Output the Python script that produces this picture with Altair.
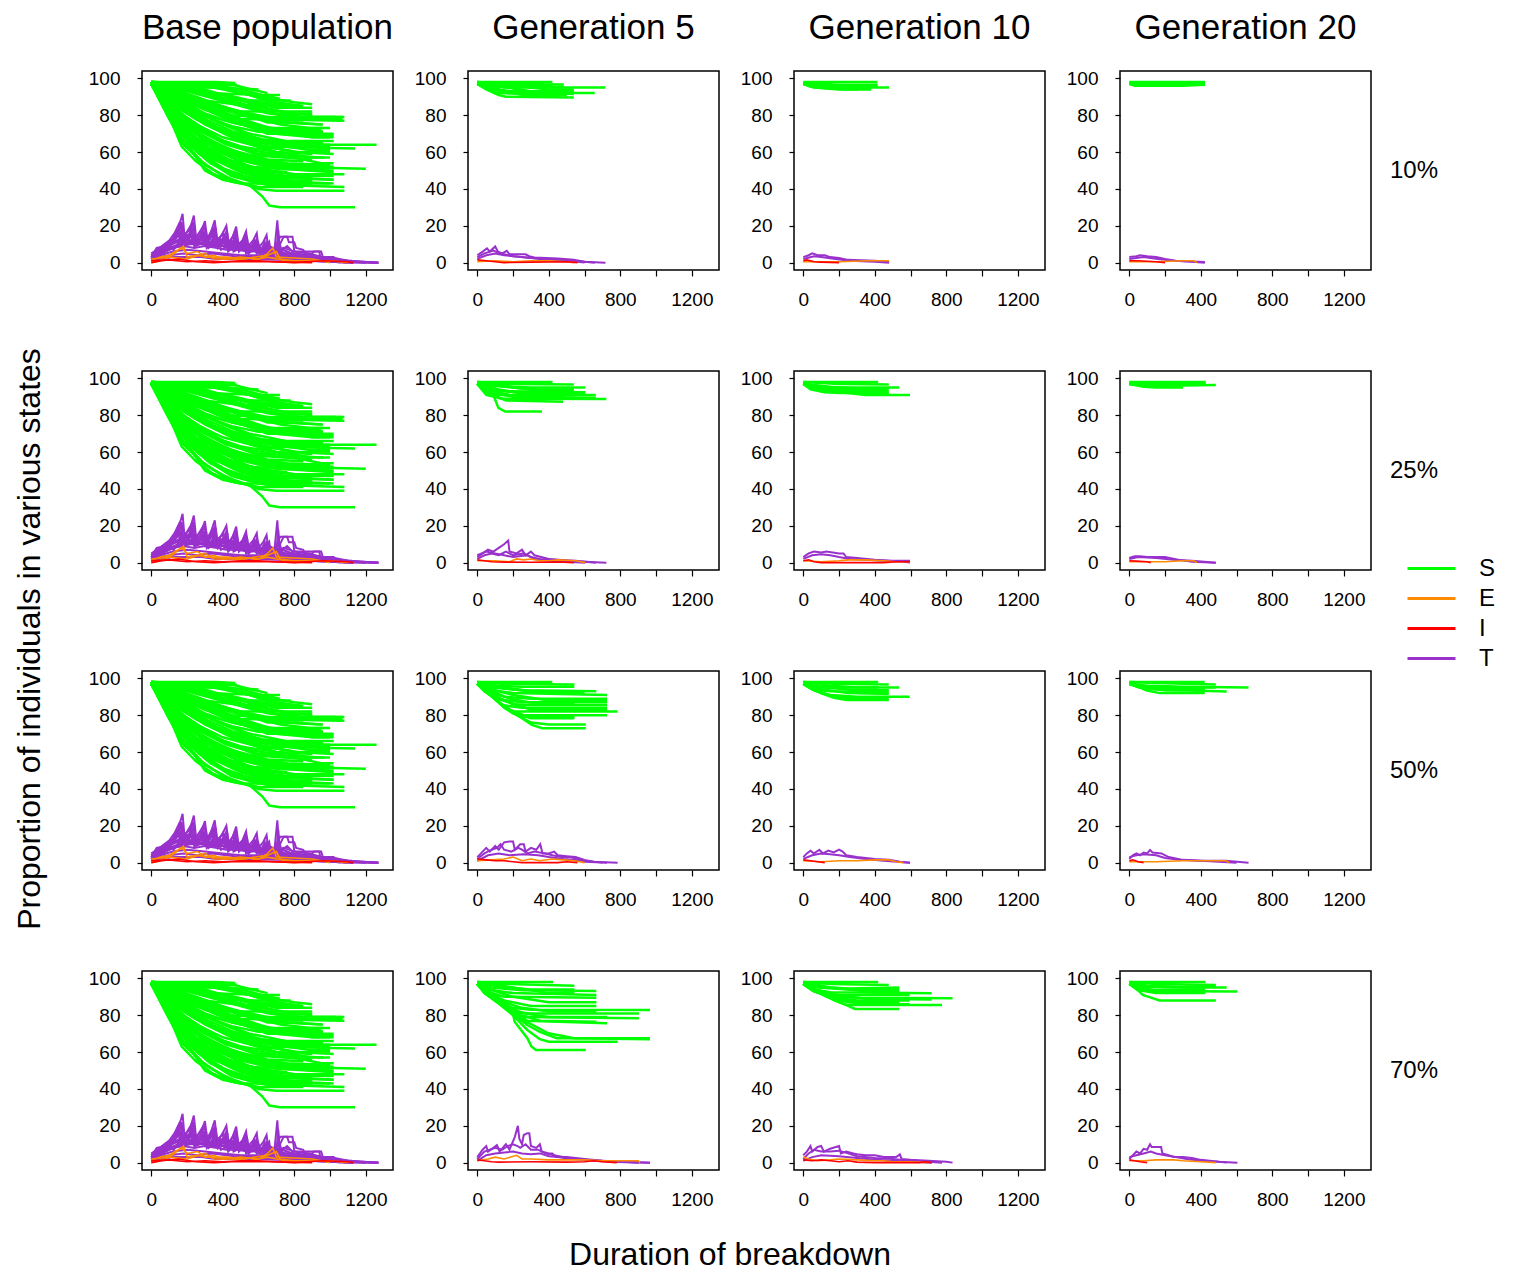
import altair as alt
import pandas as pd

FONT = "Liberation Sans"
COLS = ["Base population", "Generation 5", "Generation 10", "Generation 20"]
ROWS = ["10%", "25%", "50%", "70%"]
STATES = ["S", "E", "I", "T"]
COLORS = ["#00FF00", "#FF8C00", "#FF0000", "#9932CC"]
X_TICKS = [0, 200, 400, 600, 800, 1000, 1200]
Y_TICKS = [0, 20, 40, 60, 80, 100]

# ---------------- Base population (same in every row) ----------------
S_BASE = [
    [(0, 98), (363, 98), (470, 97.5)],
    [(0, 97.5), (100, 96.5), (480, 96.5)],
    [(0, 98), (200, 96), (300, 95), (600, 94)],
    [(0, 97), (150, 95), (300, 92), (600, 91), (720, 91)],
    [(0, 98), (200, 94), (400, 89), (560, 88), (780, 88)],
    [(0, 97), (120, 92), (300, 88), (500, 85.5), (840, 85)],
    [(0, 98), (150, 91), (350, 85), (500, 82), (900, 82)],
    [(0, 97), (100, 92), (250, 85), (450, 80), (600, 79), (1080, 79)],
    [(0, 98), (150, 89), (300, 83), (500, 78), (1080, 77)],
    [(0, 97), (120, 88), (300, 80), (500, 75), (700, 73), (960, 73)],
    [(0, 97), (100, 89), (250, 81), (450, 74), (600, 71), (960, 71)],
    [(0, 98), (130, 86), (280, 77), (450, 70), (650, 66), (1020, 66)],
    [(0, 97), (110, 87), (250, 78), (400, 71), (600, 66), (800, 64), (1260, 64)],
    [(0, 97), (100, 86), (250, 75), (400, 68), (600, 63), (1140, 62)],
    [(0, 98), (120, 84), (260, 72), (420, 64), (600, 59), (760, 58)],
    [(0, 97), (100, 84), (230, 72), (400, 63), (600, 56), (720, 55)],
    [(0, 97), (110, 82), (250, 68), (400, 60), (550, 55), (700, 52), (1200, 51)],
    [(0, 98), (100, 82), (220, 68), (380, 58), (550, 51), (760, 49)],
    [(0, 97), (90, 82), (200, 66), (350, 56), (500, 49), (650, 45), (760, 45)],
    [(0, 97), (100, 80), (210, 64), (330, 54), (480, 47), (650, 42), (760, 42)],
    [(0, 97), (90, 80), (180, 66), (300, 53), (450, 45), (600, 40), (700, 39), (1080, 39)],
    [(0, 97), (100, 78), (180, 64), (280, 55), (400, 47), (550, 42), (620, 36), (660, 31), (720, 30), (1140, 30)],
    [(0, 98), (120, 80), (170, 65), (230, 60), (300, 50), (400, 45), (500, 43), (900, 43)],
    [(0, 97), (110, 77), (170, 63), (250, 55), (350, 48), (450, 44), (600, 41), (850, 41)],
    [(0, 98), (200, 90), (350, 82), (500, 75), (700, 70), (900, 69)],
    [(0, 97), (250, 90), (450, 83), (650, 76), (850, 76)],
    [(0, 98), (300, 94), (500, 88), (700, 84), (800, 84)],
    [(0, 97), (200, 85), (400, 75), (600, 67), (800, 63), (1000, 63)],
    [(0, 97), (180, 80), (400, 66), (600, 58), (900, 56)],
    [(0, 98), (150, 78), (350, 62), (550, 52), (1020, 49)],
    [(0, 97), (160, 76), (300, 61), (500, 50), (700, 46), (1020, 45)],
    [(0, 97), (250, 88), (500, 78), (700, 72), (950, 72)],
    [(0, 98), (400, 95), (650, 89), (700, 88)],
    [(0, 97), (300, 86), (600, 73), (900, 68), (1000, 68)],
    [(0, 97), (200, 82), (450, 69), (700, 60), (900, 57), (1000, 57)],
    [(0, 98), (350, 91), (550, 85), (800, 81), (900, 81)],
    [(0, 97), (130, 85), (350, 74), (600, 65), (900, 61), (1000, 61)],
    [(0, 97), (80, 88), (200, 74), (400, 62), (700, 53), (1000, 53)],
    [(0, 97), (250, 80), (500, 66), (750, 58), (950, 54), (1020, 54)],
    [(0, 98), (180, 88), (400, 79), (650, 70), (1020, 70)],
    [(0, 98), (250, 97), (400, 95), (550, 91), (700, 87), (850, 85)],
    [(0, 97.5), (150, 96), (300, 93), (450, 90), (600, 86), (780, 84), (900, 84)],
    [(0, 98), (100, 95), (200, 91), (350, 86), (500, 82), (700, 78), (1070, 78)],
    [(0, 97), (80, 93), (160, 88), (300, 81), (450, 76), (600, 73), (800, 71), (960, 71)],
    [(0, 97), (60, 92), (140, 85), (250, 78), (400, 71), (550, 67), (750, 64), (1000, 64)],
    [(0, 98), (70, 90), (140, 82), (230, 74), (350, 68), (500, 63), (700, 60), (900, 59)],
    [(0, 97), (50, 91), (120, 83), (200, 75), (300, 68), (450, 61), (650, 56), (850, 55)],
    [(0, 97), (60, 89), (130, 79), (220, 70), (330, 62), (480, 56), (700, 51), (1000, 50)],
    [(0, 97), (40, 92), (90, 85), (150, 77), (250, 66), (380, 57), (550, 50), (760, 47), (1020, 47)],
    [(0, 97), (70, 87), (140, 76), (220, 67), (330, 58), (480, 51), (700, 47), (900, 46)],
    [(0, 98), (300, 96), (450, 93), (600, 90), (800, 87), (900, 86)],
    [(0, 97), (200, 93), (350, 89), (500, 85), (650, 81), (850, 79), (1070, 79)],
    [(0, 97.5), (120, 93), (250, 88), (400, 83), (550, 79), (750, 76), (950, 75)],
    [(0, 97), (180, 90), (320, 84), (480, 78), (650, 73), (850, 70), (1020, 69)],
    [(0, 97), (100, 90), (220, 83), (380, 76), (550, 70), (750, 66), (950, 65)],
    [(0, 98), (150, 86), (280, 77), (420, 70), (600, 64), (800, 60), (1020, 59)],
    [(0, 97), (90, 86), (190, 75), (320, 66), (470, 59), (650, 54), (900, 52)],
    [(0, 97), (130, 81), (250, 70), (380, 62), (550, 56), (800, 53), (1020, 52)],
    [(0, 97), (80, 84), (170, 72), (280, 62), (420, 54), (600, 48), (800, 46), (1020, 45)],
    [(0, 98), (110, 82), (200, 71), (320, 60), (460, 52), (620, 46), (760, 44), (1020, 43)],
    [(0, 97), (120, 78), (200, 68), (300, 58), (420, 50), (580, 44), (760, 42), (1080, 41)],
    [(0, 97), (140, 74), (220, 64), (320, 55), (450, 47), (600, 43), (850, 42)],
    [(0, 98), (400, 97), (480, 96), (560, 94), (650, 92)],
    [(0, 98), (350, 96.5), (500, 94), (620, 91), (720, 89)],
    [(0, 97), (250, 94), (420, 91), (600, 87), (780, 85), (840, 85)],
    [(0, 98), (150, 96), (280, 92), (420, 88), (560, 84), (700, 81), (830, 80)],
    [(0, 97), (100, 93), (220, 87), (360, 81), (500, 76), (650, 72), (800, 70), (900, 70)],
    [(0, 97.5), (90, 91), (190, 84), (320, 77), (460, 71), (620, 67), (800, 65), (960, 65)],
    [(0, 97), (70, 90), (160, 81), (270, 73), (400, 66), (560, 61), (750, 58), (960, 57)],
    [(0, 98), (60, 90), (130, 82), (220, 73), (330, 65), (470, 58), (650, 53), (850, 51), (960, 51)],
    [(0, 97), (50, 90), (110, 81), (190, 71), (290, 62), (420, 55), (600, 50), (800, 48), (960, 48)],
    [(0, 97), (45, 91), (100, 83), (170, 73), (260, 63), (380, 55), (540, 49), (700, 45), (900, 44)],
    [(0, 97), (40, 91), (90, 83), (140, 75), (210, 65), (300, 57), (420, 50), (580, 45), (760, 43), (1000, 43)],
    [(0, 97), (35, 91), (80, 84), (130, 76), (190, 67), (270, 59), (380, 52), (520, 47), (700, 44), (900, 44)],
    [(0, 98), (320, 97), (420, 95), (520, 92), (640, 88), (760, 85), (800, 85)],
    [(0, 97), (220, 95), (360, 92), (500, 88), (640, 84), (780, 81), (900, 80)],
    [(0, 97), (160, 93), (300, 88), (450, 83), (600, 79), (760, 76), (960, 75)],
    [(0, 98), (130, 94), (260, 89), (400, 84), (560, 79), (720, 75), (900, 73), (1000, 73)],
    [(0, 97), (110, 92), (240, 86), (380, 80), (540, 74), (700, 70), (900, 68), (1020, 68)],
    [(0, 97), (80, 90), (180, 82), (300, 75), (450, 68), (620, 63), (820, 60), (1000, 60)],
    [(0, 97), (60, 88), (150, 79), (260, 70), (390, 63), (560, 57), (760, 54), (1000, 53)],
    [(0, 98), (200, 94), (330, 90), (470, 86), (620, 82), (780, 79), (1030, 79)],
    [(0, 97), (140, 91), (260, 85), (410, 79), (570, 74), (740, 70), (960, 69)],
    [(0, 97), (75, 88), (160, 79), (260, 70), (380, 62), (520, 56), (700, 52), (900, 50), (1020, 50)],
    [(0, 97), (55, 89), (120, 80), (200, 71), (300, 63), (430, 56), (600, 51), (800, 48), (1080, 48)],
]
T_BASE = [
    [(0, 3), (30, 8), (80, 9), (120, 13), (150, 18), (175, 26.5), (185, 15), (215, 18), (238, 25.5),
     (250, 14), (280, 17), (300, 22.5), (312, 13), (335, 17), (355, 23), (368, 12), (395, 15), (420, 20),
     (432, 11), (455, 14), (475, 19.5), (487, 10), (510, 12), (530, 17), (542, 9), (570, 12), (590, 16),
     (600, 8), (625, 11), (645, 15), (655, 7), (690, 8), (705, 23), (715, 9), (740, 14), (790, 14),
     (800, 6), (880, 6), (940, 6), (945, 3), (1000, 3), (1100, 1), (1270, 0)],
    [(0, 2), (40, 6), (90, 8), (130, 12), (160, 16), (172, 9), (205, 13), (230, 18), (240, 9), (270, 12),
     (300, 16), (310, 8), (345, 12), (360, 17), (372, 8), (405, 11), (420, 14), (430, 6), (470, 10),
     (480, 13), (490, 6), (520, 9), (535, 12), (545, 5), (580, 8), (600, 10), (610, 4), (650, 6),
     (700, 5), (760, 3), (850, 2), (950, 1), (1050, 0.5), (1130, 0)],
    [(0, 4), (60, 9), (100, 10), (140, 15), (165, 20), (178, 10), (220, 14), (240, 20), (252, 10),
     (290, 14), (305, 18), (318, 9), (350, 14), (360, 19), (372, 9), (410, 12), (425, 16), (436, 7),
     (465, 10), (478, 15), (490, 7), (525, 10), (535, 14), (546, 6), (585, 8), (595, 12), (605, 5),
     (650, 9), (660, 11), (670, 4), (720, 5), (800, 3), (900, 2), (1000, 1), (1100, 0)],
    [(0, 1), (50, 4), (120, 6), (200, 7), (300, 6), (400, 5), (500, 4), (600, 4), (700, 3), (800, 2),
     (900, 1), (1000, 0.5), (1200, 0)],
    [(0, 2), (80, 7), (150, 10), (250, 11), (350, 10), (450, 8), (550, 7), (650, 6), (750, 4), (850, 3),
     (1000, 1), (1100, 0)],
    [(700, 9), (720, 14), (760, 14), (770, 11), (800, 11), (810, 8), (850, 7), (860, 5), (900, 5),
     (910, 6), (950, 6), (960, 3), (1020, 3), (1030, 1), (1120, 1), (1130, 0)],
    [(0, 3), (20, 5), (60, 7), (110, 9), (125, 7), (160, 12), (200, 15), (215, 11), (260, 13), (285, 12),
     (330, 14), (380, 13), (440, 11), (500, 10), (560, 9), (620, 8), (660, 9), (700, 7), (750, 5),
     (800, 4), (950, 2), (1270, 0)],
    [(0, 5), (50, 8), (100, 11), (140, 14), (170, 22), (180, 12), (210, 15), (235, 22), (245, 12), (275, 15),
     (300, 20), (310, 11), (340, 15), (355, 20), (365, 10), (400, 13), (420, 17), (430, 9), (460, 12),
     (475, 17), (485, 8), (515, 11), (530, 15), (540, 7), (575, 10), (590, 13), (600, 6), (640, 9),
     (650, 12), (660, 5), (700, 6), (710, 18), (718, 6), (760, 9), (800, 5), (900, 4), (1000, 2), (1200, 0)],
    [(0, 2), (30, 5), (70, 8), (110, 10), (160, 13), (190, 11), (230, 15), (260, 12), (300, 14), (330, 11),
     (370, 13), (410, 10), (450, 11), (490, 9), (530, 10), (570, 8), (620, 8), (680, 6), (740, 7),
     (800, 4), (870, 3), (950, 2), (1100, 0.5), (1270, 0)],
    [(0, 1), (40, 3), (100, 4), (180, 5), (260, 4), (340, 5), (420, 4), (500, 3), (580, 3), (660, 2),
     (760, 2), (860, 1), (1000, 0.5), (1130, 0)],
    [(0, 3), (60, 6), (120, 8), (180, 9), (240, 8), (300, 9), (360, 8), (420, 7), (480, 7), (540, 6),
     (600, 6), (680, 5), (760, 4), (860, 2), (960, 1), (1060, 0)],
    [(0, 4), (40, 7), (90, 9), (140, 11), (190, 12), (240, 12), (290, 12), (340, 11), (390, 11), (440, 10),
     (490, 9), (540, 9), (590, 8), (640, 8), (700, 8), (760, 6), (820, 4), (900, 3), (1000, 1.5), (1130, 0)],
    [(0, 2), (50, 5), (100, 7), (160, 9), (220, 10), (280, 10), (340, 9), (400, 9), (460, 8), (520, 7),
     (580, 7), (640, 6), (700, 5), (780, 4), (880, 2), (1000, 1), (1270, 0)],
    [(0, 3), (70, 8), (130, 13), (150, 16), (165, 11), (200, 14), (225, 17), (235, 11), (270, 13), (290, 16),
     (300, 10), (330, 13), (345, 16), (355, 9), (390, 11), (410, 14), (420, 8), (450, 10), (465, 13),
     (475, 7), (500, 9), (520, 12), (530, 6), (560, 8), (580, 11), (590, 5), (630, 7), (640, 10), (650, 4),
     (700, 4), (800, 2), (950, 1), (1100, 0)],
    [(0, 2), (40, 4), (80, 6), (120, 8), (160, 10), (200, 11), (240, 10), (280, 11), (320, 10), (360, 10),
     (400, 9), (440, 9), (480, 8), (520, 8), (560, 7), (600, 7), (650, 6), (700, 6), (750, 5), (800, 3),
     (850, 3), (950, 2), (1100, 0.5)],
    [(0, 3), (50, 7), (100, 9), (150, 12), (180, 14), (190, 9), (220, 12), (240, 14), (250, 9), (290, 11),
     (310, 13), (320, 8), (360, 11), (380, 12), (390, 7), (430, 9), (450, 11), (460, 6), (500, 8), (520, 10),
     (530, 5), (570, 7), (600, 9), (610, 4), (660, 6), (720, 10), (730, 5), (780, 5), (840, 4), (900, 3),
     (1000, 2), (1130, 0)],
    [(0, 1), (60, 2), (120, 3), (200, 3), (280, 3), (360, 2), (440, 2), (520, 2), (600, 2), (700, 1.5),
     (800, 1), (900, 1), (1000, 0.5), (1270, 0)],
    [(0, 4), (30, 6), (60, 9), (100, 12), (130, 16), (155, 21), (165, 12), (195, 16), (220, 20), (230, 11),
     (260, 15), (285, 19), (295, 11), (325, 14), (340, 18), (350, 10), (380, 13), (400, 16), (410, 9),
     (445, 12), (460, 15), (470, 8), (505, 11), (520, 14), (532, 7), (560, 9), (575, 12), (585, 6),
     (620, 8), (635, 11), (645, 5), (680, 6), (740, 8), (800, 6), (880, 5), (960, 3), (1080, 1), (1130, 0)],
]
E_BASE = [
    [(0, 1), (50, 3), (100, 4), (150, 7), (170, 8), (200, 5), (260, 6), (300, 3), (350, 4), (400, 2),
     (500, 3), (600, 2), (700, 6), (720, 2), (800, 1), (1000, 1), (1100, 0)],
    [(0, 0), (80, 2), (130, 5), (180, 9), (200, 3), (250, 4), (320, 3), (420, 3), (520, 2), (640, 4),
     (680, 8), (700, 3), (900, 2), (1000, 0)],
    [(0, 2), (100, 3), (200, 2), (300, 5), (350, 2), (450, 2), (550, 1), (650, 3), (750, 1), (850, 0.5)],
]
I_BASE = [
    [(0, 1), (100, 1.5), (200, 0.5), (300, 1), (400, 0.5), (500, 1), (600, 1), (700, 0.5), (800, 0),
     (960, 1), (1100, 0.5), (1130, 0)],
    [(0, 0), (60, 1), (150, 2), (250, 0.5), (350, 0), (450, 0.5), (650, 0.5), (750, 0.3), (900, 0)],
]

# ---------------- 10% ----------------
S_R10_G5 = [
    [(0, 98), (420, 98)],
    [(0, 98), (100, 97), (484, 96.7)],
    [(0, 97), (150, 95), (300, 95), (717, 95)],
    [(0, 97), (60, 94), (200, 93), (540, 93)],
    [(0, 97), (40, 95), (100, 92), (300, 92), (657, 92)],
    [(0, 97), (50, 94), (120, 91), (160, 90), (540, 89.6)],
    [(0, 98), (80, 95), (250, 91), (420, 90)],
    [(0, 97.5), (200, 96), (400, 94), (540, 94)],
    [(0, 98), (100, 96), (300, 93), (540, 92.5)],
    [(0, 97), (150, 92), (350, 91), (500, 91)],
    [(0, 97.5), (60, 96), (250, 95.5), (484, 95.5)],
    [(0, 97), (80, 93.5), (250, 92.5), (540, 91.5)],
    [(0, 98), (120, 97), (350, 96), (420, 96)],
]
T_R10_G5 = [
    [(0, 4), (30, 6), (54, 7.7), (70, 6), (100, 8.8), (115, 6), (140, 5), (165, 6.4), (180, 4.5),
     (270, 4.5), (290, 3.5), (320, 2.8), (450, 2.2), (540, 1.5), (600, 0.5), (717, 0)],
    [(0, 2), (50, 4), (100, 5), (150, 4), (250, 3), (350, 2), (500, 1), (600, 0)],
    [(0, 3), (40, 5), (90, 6.5), (130, 5), (200, 3.5), (300, 2.5), (400, 2), (540, 1), (657, 0)],
]
E_R10_G5 = [[(0, 0.5), (100, 1), (200, 0.5), (300, 1), (400, 1), (500, 0.5), (540, 0)]]
I_R10_G5 = [[(0, 1.5), (50, 1), (100, 0.5), (150, 0), (300, 0.3), (500, 0.5), (560, 0)]]

S_R10_G10 = [
    [(0, 98), (415, 98)],
    [(0, 97), (100, 96), (415, 96)],
    [(0, 97), (40, 95.5), (150, 94.5), (300, 94), (380, 94)],
    [(0, 97), (80, 95), (480, 95)],
    [(0, 97.5), (200, 96.5), (415, 96.5)],
    [(0, 97), (60, 95), (200, 94), (303, 94)],
    [(0, 97.5), (50, 96), (300, 95.5), (415, 95.5)],
    [(0, 97), (100, 95), (250, 94.5), (380, 94.5)],
]
T_R10_G10 = [
    [(0, 3), (30, 4), (50, 5), (80, 4), (120, 4), (150, 3), (200, 2.5), (250, 1.5), (400, 1), (480, 0.5)],
    [(0, 2), (60, 3.5), (100, 3), (180, 2), (260, 1), (400, 0.5), (480, 0)],
]
E_R10_G10 = [[(0, 0.5), (100, 0.5), (200, 0.5), (360, 1), (480, 1)]]
I_R10_G10 = [[(0, 1), (20, 1.5), (60, 0.5), (100, 0.3), (200, 0)]]

S_R10_G20 = [
    [(0, 98), (423, 98)],
    [(0, 97.5), (423, 97.5)],
    [(0, 97), (60, 96.5), (423, 96.5)],
    [(0, 97), (30, 96), (300, 96), (423, 96.5)],
    [(0, 97.5), (200, 97), (423, 97)],
]
T_R10_G20 = [
    [(0, 3), (40, 3.5), (60, 4), (100, 3.5), (150, 3), (200, 2), (260, 1), (350, 0.5), (423, 0)],
    [(0, 2), (80, 3), (160, 2), (250, 1), (423, 0.3)],
]
E_R10_G20 = [[(0, 0.5), (150, 0.5), (300, 1), (360, 1), (380, 0)]]
I_R10_G20 = [[(0, 1), (50, 1), (150, 0.5), (200, 0)]]

# ---------------- 25% ----------------
S_R25_G5 = [
    [(0, 98), (421, 98)],
    [(0, 98), (150, 97), (540, 96.7)],
    [(0, 97), (100, 96), (300, 95), (604, 95)],
    [(0, 97), (50, 94), (150, 93), (604, 92.4)],
    [(0, 97), (40, 93), (100, 91), (663, 91)],
    [(0, 97.5), (80, 92), (200, 90), (663, 89.5)],
    [(0, 97), (60, 92), (161, 88), (480, 87.3)],
    [(0, 97), (50, 91), (140, 89), (722, 88.8)],
    [(0, 97), (40, 93), (90, 91), (118, 84), (156, 82), (362, 82)],
    [(0, 98), (200, 95), (400, 93), (540, 93)],
    [(0, 97.5), (120, 94), (300, 91), (480, 90)],
    [(0, 97.5), (80, 94), (250, 92), (604, 92)],
    [(0, 97), (60, 93.5), (180, 91), (480, 89)],
    [(0, 98), (100, 96), (300, 94), (540, 94)],
]
T_R25_G5 = [
    [(0, 3), (30, 5), (60, 7), (90, 6), (120, 8), (150, 10), (173, 12), (180, 6), (220, 5), (250, 7),
     (270, 4), (300, 6), (320, 4), (400, 2), (500, 1), (600, 0.5), (722, 0)],
    [(0, 2), (40, 4), (80, 5), (120, 4), (160, 6), (200, 4), (260, 5), (300, 3), (350, 2), (450, 1.5),
     (550, 1), (663, 0)],
    [(0, 4), (50, 6), (100, 5), (150, 4), (200, 3), (280, 4), (320, 2), (400, 1), (500, 0.5), (604, 0)],
]
E_R25_G5 = [[(0, 1), (100, 1), (180, 0.5), (220, 2), (260, 1.5), (300, 2), (350, 1), (400, 1), (450, 1.5),
             (550, 1), (604, 0)]]
I_R25_G5 = [[(0, 1.5), (40, 1), (80, 0.5), (150, 0.3), (300, 0.2), (480, 0.3), (540, 0)]]

S_R25_G10 = [
    [(0, 98), (419, 98)],
    [(0, 98), (200, 97), (478, 96.7)],
    [(0, 97), (80, 95), (300, 95), (537, 95)],
    [(0, 97), (50, 94.5), (150, 93.5), (478, 93.5)],
    [(0, 97), (40, 94), (120, 92.5), (207, 92), (478, 92)],
    [(0, 97.5), (100, 93), (250, 92), (348, 91), (597, 91)],
    [(0, 97), (150, 95.5), (300, 94.5), (420, 94.5)],
    [(0, 97.5), (60, 95.5), (250, 94), (478, 94.5)],
    [(0, 97), (80, 94), (200, 93), (478, 92.5)],
]
T_R25_G10 = [
    [(0, 3), (30, 5), (60, 6), (100, 5.5), (130, 6), (200, 5), (225, 5), (240, 3), (300, 2.5), (400, 1.5),
     (500, 1), (597, 1)],
    [(0, 2), (50, 4), (100, 4.5), (150, 4), (200, 3), (260, 2), (350, 1.5), (450, 1), (560, 0.5), (597, 0)],
]
E_R25_G10 = [[(0, 1), (100, 0.5), (200, 1), (250, 1.5), (350, 1.5), (450, 1), (520, 0.5), (597, 0.5)]]
I_R25_G10 = [[(0, 1), (30, 1.5), (60, 0.5), (100, 0), (450, 0), (520, 0.5), (597, 0.5)]]

S_R25_G20 = [
    [(0, 98), (426, 98)],
    [(0, 97.5), (426, 97.5)],
    [(0, 97), (60, 96.5), (426, 96.5)],
    [(0, 97), (80, 95.5), (150, 95), (244, 95), (300, 95)],
    [(0, 97), (100, 96), (200, 96), (484, 96.4)],
    [(0, 97.5), (150, 97), (426, 97)],
]
T_R25_G20 = [
    [(0, 2.5), (30, 3.5), (60, 3.5), (100, 3), (200, 3), (280, 1.5), (350, 0.5), (484, 0)],
    [(0, 2), (50, 3), (150, 2.5), (250, 1.5), (350, 1), (420, 0.5), (484, 0)],
]
E_R25_G20 = [[(0, 0.5), (200, 0.5), (300, 1), (360, 1), (380, 0)]]
I_R25_G20 = [[(0, 1), (40, 0.8), (100, 0.5), (120, 0)]]

# ---------------- 50% ----------------
S_R50_G5 = [
    [(0, 98), (419, 98)],
    [(0, 98), (150, 97), (543, 96.7)],
    [(0, 97), (100, 96), (250, 95.5), (543, 95.5)],
    [(0, 97), (80, 95), (250, 93.5), (666, 93)],
    [(0, 97), (60, 94), (200, 92), (726, 91)],
    [(0, 97), (50, 93), (150, 90), (300, 89), (726, 89)],
    [(0, 97), (45, 93), (100, 89), (250, 87), (726, 87)],
    [(0, 97), (40, 93), (90, 90), (200, 86), (300, 85.5), (726, 85.5)],
    [(0, 97), (40, 93), (90, 90), (140, 85.5), (250, 84), (726, 84)],
    [(0, 97), (45, 93), (120, 87), (190, 82), (785, 82)],
    [(0, 97), (40, 93.5), (110, 88), (180, 83), (260, 80), (726, 80)],
    [(0, 97), (43, 93.7), (138, 85.5), (245, 79.5), (543, 79.2)],
    [(0, 97), (50, 93), (130, 86), (200, 81), (300, 78.3), (543, 78.3)],
    [(0, 97), (40, 94), (90, 90), (150, 84), (220, 80), (300, 76), (400, 75), (607, 75)],
    [(0, 97), (43, 93.7), (90, 90), (138, 85.5), (198, 82), (257, 78), (305, 74.7), (364, 72.9), (607, 72.9)],
    [(0, 98), (200, 94), (400, 92), (600, 92)],
    [(0, 97.5), (60, 94.5), (200, 91), (400, 88), (726, 88)],
    [(0, 97), (50, 93.5), (150, 88), (300, 83), (726, 83)],
    [(0, 97), (60, 94), (180, 89), (350, 86), (543, 86)],
    [(0, 98), (120, 95.5), (300, 93), (543, 93)],
]
T_R50_G5 = [
    [(0, 3), (30, 6), (50, 8), (70, 6), (100, 9), (120, 7), (150, 11), (180, 11.5), (200, 11.5), (210, 7),
     (240, 10), (260, 10), (270, 6), (300, 8), (330, 7), (352, 10), (365, 5), (400, 5), (430, 6), (450, 4),
     (500, 3.5), (550, 3), (600, 1.5), (650, 0.5), (785, 0)],
    [(0, 2), (40, 5), (80, 7), (110, 8), (130, 10), (150, 7), (190, 6), (230, 8), (250, 7), (280, 5),
     (320, 6), (380, 5), (420, 4), (470, 3), (520, 3), (560, 2), (600, 1), (700, 0)],
    [(0, 1), (60, 4), (120, 5), (180, 4), (260, 4.5), (340, 4), (400, 3), (480, 2), (540, 1.5), (600, 0.5),
     (726, 0)],
]
E_R50_G5 = [[(0, 1), (80, 1.5), (150, 2), (200, 3), (250, 1), (300, 2), (350, 1), (420, 2), (480, 1.5),
             (543, 1), (600, 0)]]
I_R50_G5 = [[(0, 2), (50, 1.5), (100, 1), (150, 1), (200, 0.5), (250, 0), (450, 0), (500, 0.5), (560, 0)]]

S_R50_G10 = [
    [(0, 98), (419, 98)],
    [(0, 98), (200, 97), (478, 96.7)],
    [(0, 97), (80, 95.5), (250, 95), (537, 95)],
    [(0, 97), (60, 94), (150, 93), (478, 92.5)],
    [(0, 97), (42, 94.6), (101, 91.9), (172, 89.5), (242, 88.2), (478, 88.2)],
    [(0, 97), (60, 93.5), (150, 91), (300, 90), (595, 90)],
    [(0, 97), (50, 94), (120, 91.5), (200, 89.5), (400, 89), (478, 89)],
    [(0, 98), (150, 96), (300, 95), (420, 95)],
    [(0, 97.5), (80, 94.5), (250, 92), (478, 91.5)],
    [(0, 97), (120, 95), (300, 93.5), (478, 93.5)],
]
T_R50_G10 = [
    [(0, 3), (20, 5), (40, 6.5), (60, 5), (90, 7), (110, 5), (140, 6.5), (170, 5.5), (200, 7), (220, 6),
     (240, 4), (300, 3), (400, 2), (480, 1.5), (540, 0.5), (597, 0)],
    [(0, 2), (50, 4), (100, 5), (150, 4.5), (200, 4), (260, 3), (350, 2), (450, 1), (597, 0)],
]
E_R50_G10 = [[(0, 1), (100, 0.5), (200, 1), (300, 1), (400, 1.5), (480, 1.5), (520, 0.5), (560, 0)]]
I_R50_G10 = [[(0, 1.5), (40, 1), (80, 0.5), (120, 0)]]

S_R50_G20 = [
    [(0, 98), (422, 98)],
    [(0, 98), (150, 97.5), (484, 96.7)],
    [(0, 97), (100, 96), (300, 95.5), (667, 95)],
    [(0, 97), (56, 95), (150, 94), (300, 93.5), (545, 92.9)],
    [(0, 97), (28, 96.5), (94, 93.5), (169, 92), (422, 92)],
    [(0, 97), (60, 95), (200, 94.5), (422, 94.5)],
    [(0, 97.5), (80, 96), (300, 95), (484, 95)],
    [(0, 97), (50, 95.5), (200, 93.5), (422, 93.5)],
]
T_R50_G20 = [
    [(0, 2), (20, 4), (40, 5), (60, 4), (80, 5.5), (100, 5), (116, 6.9), (130, 5.5), (180, 5), (220, 3),
     (300, 1.5), (400, 1), (540, 1), (667, 0)],
    [(0, 3), (40, 4), (80, 4.5), (150, 4), (200, 2.5), (280, 1.5), (400, 1), (500, 0.5), (600, 0)],
]
E_R50_G20 = [[(0, 0.5), (150, 0.5), (300, 1), (400, 1), (480, 1), (540, 1), (560, 0)]]
I_R50_G20 = [[(0, 1), (20, 1.5), (50, 0.5), (80, 0)]]

# ---------------- 70% ----------------
S_R70_G5 = [
    [(0, 98), (424, 98)],
    [(0, 98), (150, 97), (543, 96)],
    [(0, 97), (80, 95), (250, 93.5), (666, 93.1)],
    [(0, 97), (60, 94), (200, 92), (666, 91)],
    [(0, 97), (50, 93), (150, 90), (666, 89.5)],
    [(0, 97), (43, 92), (114, 87.3), (200, 84), (300, 83), (966, 82.8)],
    [(0, 97), (50, 92), (120, 87), (185, 82), (300, 81), (904, 81)],
    [(0, 97), (43, 91.9), (114, 87.3), (185, 82), (260, 79), (904, 78.3)],
    [(0, 97), (40, 93), (100, 88.5), (180, 83), (280, 77), (726, 75.6)],
    [(0, 97), (45, 92), (120, 86.5), (232, 78.3), (280, 74.7), (350, 71), (445, 67.5), (966, 67.5)],
    [(0, 97), (50, 91.5), (130, 86), (209, 80), (303, 75), (398, 70.2), (492, 68.4), (540, 67.5), (966, 67)],
    [(0, 97), (40, 92), (110, 87), (197, 82), (209, 76.5), (280, 67.5), (303, 63), (328, 61.1), (607, 61.1)],
    [(0, 97), (50, 92.5), (130, 85.5), (200, 80), (280, 72), (350, 67), (400, 65.6), (785, 65.6)],
    [(0, 97), (43, 92), (100, 88), (160, 84), (250, 80), (350, 77), (666, 76.5)],
    [(0, 98), (200, 95), (400, 92), (543, 92)],
    [(0, 97), (70, 92), (150, 87), (250, 84), (400, 82), (666, 82)],
    [(0, 97.5), (70, 94), (200, 90), (400, 87), (666, 87)],
    [(0, 97), (60, 93), (150, 88), (300, 85), (666, 85)],
    [(0, 97), (50, 92), (140, 86), (260, 81), (400, 79), (726, 79)],
    [(0, 98), (120, 95.5), (300, 94), (543, 94)],
]
T_R70_G5 = [
    [(0, 3), (30, 7), (50, 9), (60, 6), (90, 8), (110, 9.5), (125, 6), (160, 10), (180, 7), (210, 14),
     (227, 20), (235, 13), (250, 10), (260, 15), (280, 16), (291, 16), (300, 9), (330, 8), (350, 10),
     (360, 6), (400, 5), (420, 5), (440, 3), (500, 3), (600, 2), (700, 1), (800, 0.5), (966, 0)],
    [(0, 2), (40, 6), (70, 7), (100, 8), (140, 7), (170, 9), (200, 10), (225, 9), (240, 8), (270, 10),
     (300, 7), (340, 7), (380, 5), (430, 4), (480, 3), (550, 2), (650, 1), (750, 0.5), (904, 0)],
    [(0, 1), (50, 4), (100, 5), (150, 5.5), (200, 6), (250, 5), (300, 4.5), (350, 5), (400, 3.5), (450, 3),
     (520, 2), (600, 1.5), (700, 1), (800, 0.5), (966, 0)],
]
E_R70_G5 = [[(0, 1), (60, 2), (100, 3), (150, 2), (220, 4), (250, 2), (300, 2), (400, 1.5), (500, 1.5),
             (600, 1.5), (700, 1), (900, 1), (910, 0)]]
I_R70_G5 = [[(0, 1.5), (40, 1), (80, 0.5), (120, 0.3), (300, 0.5), (500, 0.3), (600, 0.5), (650, 1),
             (700, 0.5), (780, 0)]]

S_R70_G10 = [
    [(0, 98), (419, 98)],
    [(0, 98), (150, 97), (478, 96.4)],
    [(0, 97), (80, 95), (250, 94), (537, 94)],
    [(0, 97), (50, 94), (150, 92.5), (718, 91.9)],
    [(0, 97), (60, 93), (180, 90), (300, 89.5), (835, 89.2)],
    [(0, 97), (42, 95), (101, 91.9), (172, 88.2), (242, 85.5), (776, 85.5)],
    [(0, 97), (42, 95), (101, 91.9), (172, 88.2), (242, 85.5), (289, 83.4), (537, 83.4)],
    [(0, 97), (50, 94), (130, 90), (250, 87), (400, 86), (595, 86)],
    [(0, 97), (70, 94), (200, 91), (595, 91)],
    [(0, 98), (150, 95), (350, 93), (537, 93)],
    [(0, 97), (60, 93), (160, 89.5), (300, 87), (537, 87)],
    [(0, 97.5), (80, 95.5), (250, 94.5), (537, 95)],
    [(0, 97), (60, 94), (180, 91), (350, 89), (718, 88.5)],
    [(0, 97), (50, 93.5), (150, 90), (300, 88), (595, 88)],
]
T_R70_G10 = [
    [(0, 4), (20, 6), (40, 9), (50, 6), (80, 8.5), (100, 9), (115, 6), (150, 7.5), (200, 9), (210, 5),
     (240, 6), (280, 5), (300, 4.5), (350, 4), (400, 4), (450, 3), (520, 3), (540, 4.5), (550, 2),
     (600, 1.5), (700, 1), (800, 0.5), (835, 0)],
    [(0, 2), (30, 5), (60, 7), (100, 6), (150, 6), (200, 6.5), (250, 5), (300, 3.5), (400, 2.5), (500, 2),
     (600, 1), (700, 0.5), (776, 0)],
    [(0, 1), (50, 3), (100, 4), (200, 3.5), (300, 2.5), (400, 1.5), (500, 1), (600, 0.5), (718, 0)],
]
E_R70_G10 = [[(0, 3), (30, 2), (80, 1), (150, 1.5), (200, 2), (300, 1.5), (400, 1), (450, 1), (500, 0.5),
              (600, 0.5), (700, 0)]]
I_R70_G10 = [[(0, 1.5), (50, 1), (100, 1.5), (150, 1), (200, 0.5), (250, 1), (300, 0.3), (400, 0),
              (650, 0), (680, 0.5), (720, 0)]]

S_R70_G20 = [
    [(0, 98), (426, 98)],
    [(0, 98), (150, 97), (484, 96.4)],
    [(0, 97), (60, 95.5), (200, 95), (545, 95)],
    [(0, 97), (47, 94), (120, 93), (300, 93), (605, 92.9)],
    [(0, 97), (19, 96), (47, 93.7), (150, 92), (426, 92)],
    [(0, 97), (47, 93.7), (75, 91), (113, 89.8), (169, 88), (484, 88)],
    [(0, 97.5), (100, 96), (300, 95), (426, 95)],
    [(0, 97.5), (60, 96), (250, 95.5), (484, 95.5)],
    [(0, 97), (40, 95), (150, 93.5), (426, 93.5)],
]
T_R70_G20 = [
    [(0, 2), (20, 4), (40, 6), (60, 5), (80, 7.5), (100, 7), (116, 10), (125, 8.5), (178, 8.5), (185, 5),
     (220, 4), (250, 3), (300, 3), (350, 2.5), (400, 1.5), (500, 0.5), (605, 0)],
    [(0, 3), (40, 4), (80, 5), (120, 6), (150, 5), (200, 4), (260, 3), (320, 2), (400, 1), (500, 0.5),
     (545, 0)],
]
E_R70_G20 = [[(0, 1), (80, 1), (150, 1.5), (250, 1.5), (300, 1), (400, 0.5), (484, 0)]]
I_R70_G20 = [[(0, 1.5), (30, 1), (60, 0.5), (100, 0)]]

BASE = (S_BASE, E_BASE, I_BASE, T_BASE)
PANELS = {
    ("10%", "Base population"): BASE,
    ("10%", "Generation 5"): (S_R10_G5, E_R10_G5, I_R10_G5, T_R10_G5),
    ("10%", "Generation 10"): (S_R10_G10, E_R10_G10, I_R10_G10, T_R10_G10),
    ("10%", "Generation 20"): (S_R10_G20, E_R10_G20, I_R10_G20, T_R10_G20),
    ("25%", "Base population"): BASE,
    ("25%", "Generation 5"): (S_R25_G5, E_R25_G5, I_R25_G5, T_R25_G5),
    ("25%", "Generation 10"): (S_R25_G10, E_R25_G10, I_R25_G10, T_R25_G10),
    ("25%", "Generation 20"): (S_R25_G20, E_R25_G20, I_R25_G20, T_R25_G20),
    ("50%", "Base population"): BASE,
    ("50%", "Generation 5"): (S_R50_G5, E_R50_G5, I_R50_G5, T_R50_G5),
    ("50%", "Generation 10"): (S_R50_G10, E_R50_G10, I_R50_G10, T_R50_G10),
    ("50%", "Generation 20"): (S_R50_G20, E_R50_G20, I_R50_G20, T_R50_G20),
    ("70%", "Base population"): BASE,
    ("70%", "Generation 5"): (S_R70_G5, E_R70_G5, I_R70_G5, T_R70_G5),
    ("70%", "Generation 10"): (S_R70_G10, E_R70_G10, I_R70_G10, T_R70_G10),
    ("70%", "Generation 20"): (S_R70_G20, E_R70_G20, I_R70_G20, T_R70_G20),
}

records = []
for (row, col), groups in PANELS.items():
    for state, runs in zip(STATES, groups):
        for k, run in enumerate(runs):
            for j, (x, y) in enumerate(run):
                records.append({"row": row, "col": col, "state": state,
                                "run": f"{row}|{col}|{state}|{k}", "ord": j, "x": x, "y": y})
df = pd.DataFrame(records)

x_enc = alt.X("x:Q", scale=alt.Scale(domain=[-52, 1352], nice=False, zero=False),
              axis=alt.Axis(values=X_TICKS, format="d", title=None, labelFlush=False,
                            labelOverlap=False,
                            labelExpr="datum.value % 400 === 0 ? datum.label : ''"))
y_enc = alt.Y("y:Q", scale=alt.Scale(domain=[-4, 104], nice=False, zero=False),
              axis=alt.Axis(values=Y_TICKS, format="d", title=None, labelFlush=False,
                            labelOverlap=False, tickSize=5, labelPadding=17))
color_enc = alt.Color("state:N", scale=alt.Scale(domain=STATES, range=COLORS),
                      legend=alt.Legend(orient="none", legendX=1272, legendY=480, title=None,
                                        symbolType="M-1.5,0H1.5", symbolSize=1024,
                                        symbolStrokeWidth=3,
                                        labelFontSize=24, labelFont=FONT, labelColor="black",
                                        labelOffset=30, rowPadding=0, padding=0))

base = alt.Chart().encode(x=x_enc, y=y_enc, color=color_enc, detail="run:N", order="ord:Q")
WIDTHS = {"S": 2.5, "T": 2.0, "E": 1.6, "I": 1.6}
layers = [base.mark_line(strokeWidth=WIDTHS[s], clip=True).transform_filter(alt.datum.state == s)
          for s in ["S", "T", "E", "I"]]

chart = alt.layer(*layers, data=df).properties(width=251, height=199).facet(
    row=alt.Row("row:N", sort=ROWS,
                header=alt.Header(title="Proportion of individuals in various states",
                                  titleOrient="left", labelOrient="right", labelAngle=0,
                                  labelAlign="right", labelBaseline="middle", labelFontSize=24,
                                  labelFont=FONT, labelColor="black", labelPadding=19,
                                  titleFontSize=32, titleFont=FONT, titleFontWeight="normal",
                                  titleColor="black", titlePadding=85)),
    column=alt.Column("col:N", sort=COLS,
                      header=alt.Header(title="Duration of breakdown", titleOrient="bottom",
                                        labelOrient="top", labelFontSize=35, labelFont=FONT,
                                        labelColor="black", labelPadding=25,
                                        titleFontSize=32, titleFont=FONT, titleFontWeight="normal",
                                        titleColor="black", titlePadding=60)),
    spacing={"row": 101, "column": 75},
).properties(bounds="flush", padding={"left": 5, "top": 3, "right": 0, "bottom": 0}).resolve_axis(
    x="independent", y="independent"
).configure_view(
    stroke="black", strokeWidth=1.5
).configure_axis(
    grid=False, domain=False, ticks=True, tickColor="black", tickWidth=1.2, tickSize=6,
    labelColor="black", labelFont=FONT, labelFontSize=19, labelPadding=14
)

chart.save("out.html", embed_options={"renderer": "svg", "actions": False})
